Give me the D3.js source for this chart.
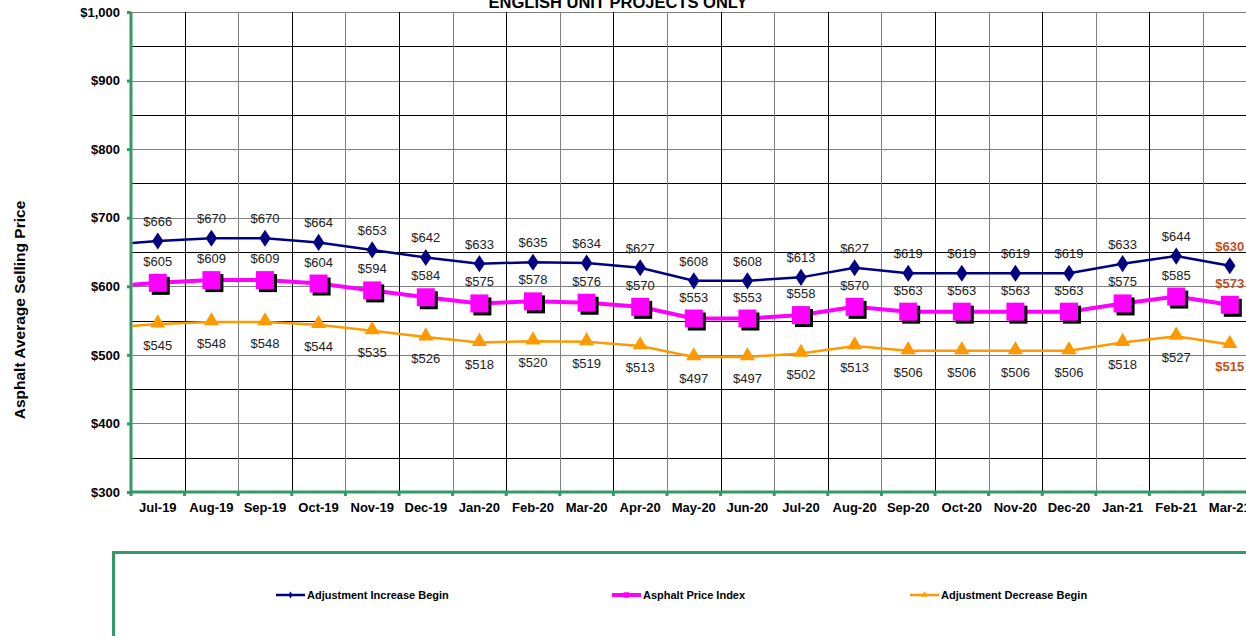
<!DOCTYPE html>
<html>
<head>
<meta charset="utf-8">
<script src="https://cdn.jsdelivr.net/npm/d3@7"></script>
<style>
  html, body { margin: 0; padding: 0; background: #fff; }
  svg { display: block; font-family: Arial, "Liberation Sans", sans-serif; }
</style>
</head>
<body>
<script>
// Data

// Jun-19 sits just left of the plot; only its line stub shows
const months = ["Jun-19", "Jul-19", "Aug-19", "Sep-19", "Oct-19", "Nov-19", "Dec-19",
  "Jan-20", "Feb-20", "Mar-20", "Apr-20", "May-20", "Jun-20", "Jul-20", "Aug-20",
  "Sep-20", "Oct-20", "Nov-20", "Dec-20", "Jan-21", "Feb-21", "Mar-21"]

const increaseBegin = [660, 666, 670, 670, 664, 653, 642, 633, 635, 634, 627, 608, 608,
  613, 627, 619, 619, 619, 619, 633, 644, 630]
const priceIndex = [599, 605, 609, 609, 604, 594, 584, 575, 578, 576, 570, 553, 553,
  558, 570, 563, 563, 563, 563, 575, 585, 573]
const decreaseBegin = [539, 545, 548, 548, 544, 535, 526, 518, 520, 519, 513, 497, 497,
  502, 513, 506, 506, 506, 506, 518, 527, 515]

const yTicks = [300, 400, 500, 600, 700, 800, 900, 1000]
const yGrid = d3.range(350, 1001, 50)

const seriesNames = ["Adjustment Increase Begin", "Asphalt Price Index", "Adjustment Decrease Begin"]

// Dimensions
const width = 1246
const height = 636
const plotLeft = 131
const plotTop = 12
const plotBottom = 492
const step = 53.6
const nShown = months.length - 1
const plotRight = plotLeft + nShown * step

const green = "#339966"
const navy = "#000080"
const magenta = "#FF00FF"
const orange = "#FF9900"
const lastColor = "#C0501F"

const svg = d3.select("body")
  .append("svg")
  .attr("width", width)
  .attr("height", height)

// Scales
const x = d3.scaleBand()
  .domain(months)
  .range([plotLeft - step, plotRight])
  .paddingInner(0)
  .paddingOuter(0)

const cx = m => x(m) + x.bandwidth() / 2

const y = d3.scaleLinear()
  .domain([300, 1000])
  .range([plotBottom, plotTop])

const shown = months.slice(1)

// Grid lines
svg.append("g")
  .selectAll("line")
  .data(yGrid)
  .join("line")
  .attr("x1", plotLeft)
  .attr("x2", plotRight)
  .attr("y1", d => Math.round(y(d)) + 0.5)
  .attr("y2", d => Math.round(y(d)) + 0.5)
  .attr("stroke", d => d % 100 === 0 ? "#808080" : "#000")
  .attr("stroke-width", 1)

svg.append("g")
  .selectAll("line")
  .data(d3.range(1, nShown + 1))
  .join("line")
  .attr("x1", i => Math.round(plotLeft + i * step) + 0.5)
  .attr("x2", i => Math.round(plotLeft + i * step) + 0.5)
  .attr("y1", plotTop)
  .attr("y2", plotBottom)
  .attr("stroke", i => i % 2 ? "#000" : "#808080")
  .attr("stroke-width", 1)

// Y axis
const axisY = svg.append("g")
  .attr("transform", `translate(${plotLeft}, 0)`)
  .call(d3.axisLeft(y).tickValues(yTicks).tickFormat(d3.format("$,")).tickSize(4).tickPadding(7))

axisY.select(".domain").remove()
axisY.selectAll(".tick line").attr("stroke", green).attr("stroke-width", 3)
axisY.selectAll("text")
  .style("font-size", "13px")
  .style("font-weight", "bold")
  .attr("fill", "#000")
  .attr("font-family", "Arial, 'Liberation Sans', sans-serif")

// X axis (labels only, boundary ticks drawn below)
const axisX = svg.append("g")
  .attr("transform", `translate(0, ${plotBottom})`)
  .call(d3.axisBottom(x).tickValues(shown).tickSize(0).tickPadding(11))

axisX.select(".domain").remove()
axisX.selectAll("text")
  .style("font-size", "13px")
  .style("font-weight", "bold")
  .attr("fill", "#000")
  .attr("font-family", "Arial, 'Liberation Sans', sans-serif")

svg.append("g")
  .selectAll("line")
  .data(d3.range(0, nShown + 1))
  .join("line")
  .attr("x1", i => plotLeft + i * step)
  .attr("x2", i => plotLeft + i * step)
  .attr("y1", plotBottom)
  .attr("y2", plotBottom + 4)
  .attr("stroke", green)
  .attr("stroke-width", 3)

// Axis lines
svg.append("line")
  .attr("x1", plotLeft).attr("x2", plotLeft)
  .attr("y1", plotTop).attr("y2", plotBottom + 1.5)
  .attr("stroke", green).attr("stroke-width", 3)

svg.append("line")
  .attr("x1", plotLeft - 1.5).attr("x2", plotRight)
  .attr("y1", plotBottom).attr("y2", plotBottom)
  .attr("stroke", green).attr("stroke-width", 3)

// Clip for the lines
svg.append("clipPath")
  .attr("id", "plot-clip")
  .append("rect")
  .attr("x", plotLeft + 1.5)
  .attr("y", plotTop)
  .attr("width", plotRight - plotLeft)
  .attr("height", plotBottom - plotTop)

const line = d3.line()
  .x((d, i) => cx(months[i]))
  .y(d => y(d))

const plot = svg.append("g").attr("clip-path", "url(#plot-clip)")

plot.append("path")
  .datum(decreaseBegin)
  .attr("d", line)
  .attr("fill", "none")
  .attr("stroke", orange)
  .attr("stroke-width", 2.5)

plot.append("path")
  .datum(priceIndex)
  .attr("d", line)
  .attr("fill", "none")
  .attr("stroke", magenta)
  .attr("stroke-width", 4)

plot.append("path")
  .datum(increaseBegin)
  .attr("d", line)
  .attr("fill", "none")
  .attr("stroke", navy)
  .attr("stroke-width", 2.5)

// Markers
const pts = arr => arr.slice(1).map((v, i) => ({ m: shown[i], v, last: i === nShown - 1 }))

const diamond = d3.symbol().type(d3.symbolDiamond).size(85)
const triangle = d3.symbol().type(d3.symbolTriangle).size(100)

svg.append("g")
  .selectAll("path")
  .data(pts(decreaseBegin))
  .join("path")
  .attr("d", triangle)
  .attr("transform", d => `translate(${cx(d.m)}, ${y(d.v) - 1})`)
  .attr("fill", orange)

// square with black shadow
const sq = 18
svg.append("g")
  .selectAll("rect")
  .data(pts(priceIndex))
  .join("rect")
  .attr("x", d => cx(d.m) - sq / 2 + 3)
  .attr("y", d => y(d.v) - sq / 2 + 3)
  .attr("width", sq)
  .attr("height", sq)
  .attr("fill", "#000")

svg.append("g")
  .selectAll("rect")
  .data(pts(priceIndex))
  .join("rect")
  .attr("x", d => cx(d.m) - sq / 2)
  .attr("y", d => y(d.v) - sq / 2)
  .attr("width", sq)
  .attr("height", sq)
  .attr("fill", magenta)

svg.append("g")
  .selectAll("path")
  .data(pts(increaseBegin))
  .join("path")
  .attr("d", diamond)
  .attr("transform", d => `translate(${cx(d.m)}, ${y(d.v)}) scale(1.15, 1)`)
  .attr("fill", navy)

// Data labels
const labels = (arr, dy) => {
  svg.append("g")
    .selectAll("text")
    .data(pts(arr))
    .join("text")
    .attr("x", d => cx(d.m))
    .attr("y", d => y(d.v) + dy)
    .attr("text-anchor", "middle")
    .style("font-size", "13px")
    .style("font-weight", d => d.last ? "bold" : "normal")
    .attr("fill", d => d.last ? lastColor : "#222")
    .text(d => "$" + d.v)
}

labels(increaseBegin, -15)
labels(priceIndex, -17)
labels(decreaseBegin, 26)

// Title (cut by the top edge, as in the source)
svg.append("text")
  .attr("x", 618)
  .attr("y", 8)
  .attr("text-anchor", "middle")
  .style("font-size", "16.5px")
  .style("font-weight", "bold")
  .text("ENGLISH UNIT PROJECTS ONLY")

// Y axis title
svg.append("text")
  .attr("transform", "translate(25, 310) rotate(-90)")
  .attr("text-anchor", "middle")
  .style("font-size", "15.5px")
  .style("font-weight", "bold")
  .text("Asphalt Average Selling Price")

// Legend
svg.append("rect")
  .attr("x", 113.5)
  .attr("y", 552.5)
  .attr("width", 1200)
  .attr("height", 120)
  .attr("fill", "#fff")
  .attr("stroke", green)
  .attr("stroke-width", 3)

const legendX = [276, 612, 910]
const legendColors = [navy, magenta, orange]
const legendWidths = [2.5, 4, 2.5]

const legend = svg.append("g")
  .selectAll("g")
  .data(seriesNames)
  .join("g")
  .attr("transform", (d, i) => `translate(${legendX[i]}, 595)`)

legend.append("line")
  .attr("x1", 0).attr("x2", 29)
  .attr("y1", 0).attr("y2", 0)
  .attr("stroke", (d, i) => legendColors[i])
  .attr("stroke-width", (d, i) => legendWidths[i])

legend.append("path")
  .attr("d", (d, i) => d3.symbol().type([d3.symbolDiamond, d3.symbolSquare, d3.symbolTriangle][i]).size([14, 30, 18][i])())
  .attr("transform", "translate(14.5, 0)")
  .attr("fill", (d, i) => legendColors[i])

legend.append("text")
  .attr("x", 31)
  .attr("y", 4)
  .style("font-size", "11px")
  .style("font-weight", "bold")
  .text(d => d)
</script>
</body>
</html>
